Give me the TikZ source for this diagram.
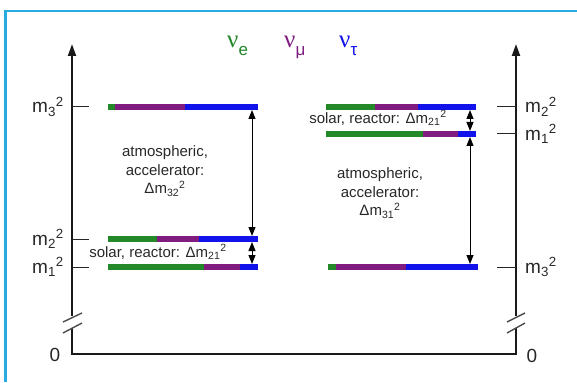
\documentclass[tikz,border=0pt]{standalone}
\usepackage{fontspec}
\setmainfont{Liberation Sans}
\newfontfamily\nufont{Liberation Serif}
\usetikzlibrary{arrows.meta}
\definecolor{nug}{RGB}{34,136,40}
\definecolor{nup}{RGB}{128,28,128}
\definecolor{nub}{RGB}{18,18,235}
\definecolor{frame}{RGB}{41,171,226}
\definecolor{txt}{RGB}{40,40,40}
\newcommand{\nulab}[1]{{\nufont\fontsize{25}{28}\selectfont ν}\raisebox{-8pt}{\fontsize{17}{20}\selectfont #1}}
\tikzset{
  axis/.style={line width=2pt,draw=black!90},
  brk/.style={line width=1.4pt,draw=black!70},
  tick/.style={line width=1pt,draw=black!85},
  bar/.style={line width=6pt},
  dbl/.style={line width=1pt,{Triangle[length=9pt,width=7pt]}-{Triangle[length=9pt,width=7pt]}},
  body/.style={text=txt,font=\fontsize{15}{18.5}\selectfont,align=center,inner sep=0pt},
  lab/.style={text=txt,font=\fontsize{19}{22}\selectfont,inner sep=0pt},
  nul/.style={inner sep=0pt,anchor=base west},
}
\begin{document}
\begin{tikzpicture}[x=1pt,y=-1pt]
\useasboundingbox (0,0) rectangle (577,382);
% frame
\draw[frame,line width=2.5pt] (5.5,382) -- (5.5,11) -- (577,11);
% flavour labels
\node[nul,text=nug] (ne) at (227,48) {\nulab{e}};
\node[nul,text=nup] (nm) at (284,48) {\nulab{μ}};
\node[nul,text=nub] (nt) at (339,48) {\nulab{τ}};
% axes
\coordinate (L0) at (72,354); \coordinate (R0) at (516,354);
\coordinate (Lb) at (72,328); \coordinate (Rb) at (516,328);
\coordinate (Lt) at (72,316); \coordinate (Rt) at (516,316);
\coordinate (Ltop) at (72,44); \coordinate (Rtop) at (516,44);
\draw[axis] (Lb) -- (L0) -- (R0) -- (Rb);
\draw[axis,-{Triangle[length=12pt,width=8pt]}] (Lt) -- (Ltop);
\draw[axis,-{Triangle[length=12pt,width=8pt]}] (Rt) -- (Rtop);
\draw[brk] (63,322) -- (82,313);
\draw[brk] (63,333) -- (82,323);
\draw[brk] (507,322) -- (525,313);
\draw[brk] (507,333) -- (525,323);
\node[lab] (zl) at (55,355) {0};
\node[lab] (zr) at (532,356) {0};
% left ticks and labels
\draw[tick] (73,107) -- (89,107);
\draw[tick] (73,239) -- (89,239);
\draw[tick] (73,267) -- (89,267);
\node[lab,anchor=base east] (lm3) at (64,113) {m\textsubscript{3}\textsuperscript{2}};
\node[lab,anchor=base east] (lm2) at (64,245) {m\textsubscript{2}\textsuperscript{2}};
\node[lab,anchor=base east] (lm1) at (64,273) {m\textsubscript{1}\textsuperscript{2}};
% right ticks and labels
\draw[tick] (497,107) -- (516,107);
\draw[tick] (497,134) -- (516,134);
\draw[tick] (497,267) -- (516,267);
\node[lab,anchor=base west] (rm2) at (525,113) {m\textsubscript{2}\textsuperscript{2}};
\node[lab,anchor=base west] (rm1) at (525,140) {m\textsubscript{1}\textsuperscript{2}};
\node[lab,anchor=base west] (rm3) at (525,273) {m\textsubscript{3}\textsuperscript{2}};
% left bars
\draw[bar,nug] (108,107) -- (115,107);
\draw[bar,nup] (115,107) -- (185,107);
\draw[bar,nub] (185,107) -- (258,107);
\draw[bar,nug] (108,239) -- (157,239);
\draw[bar,nup] (157,239) -- (199,239);
\draw[bar,nub] (199,239) -- (258,239);
\draw[bar,nug] (108,267) -- (204,267);
\draw[bar,nup] (204,267) -- (240,267);
\draw[bar,nub] (240,267) -- (258,267);
% right bars
\draw[bar,nug] (326,107) -- (375,107);
\draw[bar,nup] (375,107) -- (418,107);
\draw[bar,nub] (418,107) -- (476,107);
\draw[bar,nug] (326,134) -- (423,134);
\draw[bar,nup] (423,134) -- (458,134);
\draw[bar,nub] (458,134) -- (476,134);
\draw[bar,nug] (328,267) -- (336,267);
\draw[bar,nup] (336,267) -- (406,267);
\draw[bar,nub] (406,267) -- (478,267);
% arrows
\coordinate (a1) at (252,110); \coordinate (a2) at (252,236);
\coordinate (a3) at (252,242); \coordinate (a4) at (252,264);
\coordinate (b1) at (470,110); \coordinate (b2) at (470,131);
\coordinate (b3) at (470,137); \coordinate (b4) at (470,264);
\draw[dbl] (a1) -- (a2);
\draw[dbl] (a3) -- (a4);
\draw[dbl] (b1) -- (b2);
\draw[dbl] (b3) -- (b4);
% texts
\node[body] (tl) at (165,171) {atmospheric,\\accelerator:\\Δm\textsubscript{32}\textsuperscript{2}};
\node[body] (sl) at (158,252) {solar, reactor: Δm\textsubscript{21}\textsuperscript{2}};
\node[body] (sr) at (378,118) {solar, reactor: Δm\textsubscript{21}\textsuperscript{2}};
\node[body] (tr) at (380,193) {atmospheric,\\accelerator:\\Δm\textsubscript{31}\textsuperscript{2}};
\end{tikzpicture}
\end{document}
